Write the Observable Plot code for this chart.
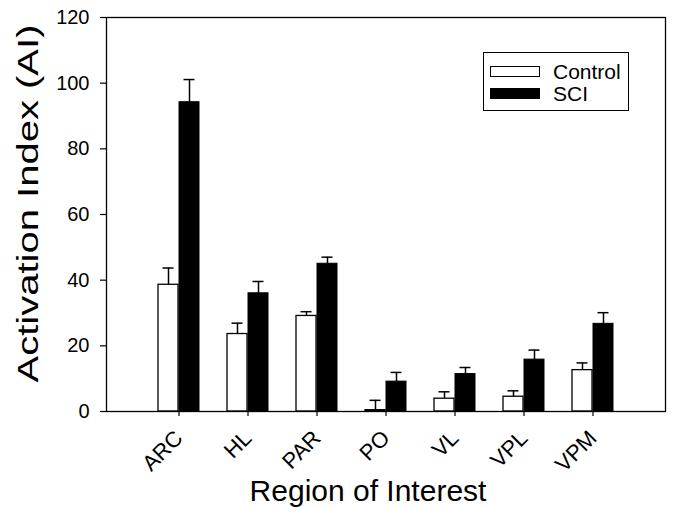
<!DOCTYPE html>
<html>
<head>
<meta charset="utf-8">
<script src="https://cdn.jsdelivr.net/npm/d3@7"></script>
<script src="https://cdn.jsdelivr.net/npm/@observablehq/plot@0.6"></script>
<style>
  html, body { margin: 0; padding: 0; background: white; }
  #wrap { position: relative; width: 675px; height: 507px; font-family: "Liberation Sans", Arial, sans-serif; }
  #legend { position: absolute; left: 483px; top: 52px; width: 146px; height: 59px; border: 1px solid black; background: white; box-sizing: border-box; }
  .row { position: absolute; left: 6px; display: flex; align-items: center; }
  .sw { width: 50px; height: 11px; box-sizing: border-box; border: 1.3px solid black; }
  .lab { margin-left: 13px; font-size: 21px; line-height: 21px; color: black; }
</style>
</head>
<body>
<div id="wrap"></div>
<script>
// Data
const regions = ["ARC", "HL", "PAR", "PO", "VL", "VPL", "VPM"];
const controlMean = [38.6, 23.6, 29.1, 0.4, 3.9, 4.5, 12.6];
const controlErr  = [5.1, 3.3, 1.3, 3.0, 2.1, 1.8, 2.2];
const sciMean     = [94.2, 36.0, 45.0, 9.1, 11.4, 15.8, 26.7];
const sciErr      = [6.9, 3.6, 2.0, 2.8, 2.0, 2.9, 3.4];
const yTicks = [0, 20, 40, 60, 80, 100, 120];
const seriesNames = ["Control", "SCI"];
const seriesFill = ["white", "black"];
const xTitle = "Region of Interest";
const yTitle = "Activation Index (AI)";

const control = regions.map((r, i) => ({region: r, mean: controlMean[i], upper: controlMean[i] + controlErr[i]}));
const sci = regions.map((r, i) => ({region: r, mean: sciMean[i], upper: sciMean[i] + sciErr[i]}));

const half = 21;
const capW = 12;

const chart = Plot.plot({
  width: 675,
  height: 507,
  marginLeft: 106,
  marginRight: 10,
  marginTop: 17,
  marginBottom: 96,
  style: {fontFamily: "'Liberation Sans', Arial, sans-serif", color: "black", background: "white", overflow: "visible"},
  x: {domain: regions, paddingInner: 0.4, paddingOuter: 0.7},
  y: {domain: [0, 120]},
  marks: [
    Plot.axisY({ticks: yTicks, tickSize: 6, tickPadding: 11, fontSize: 20, label: null, strokeWidth: 1.2}),
    Plot.axisX({tickSize: 5, tickFormat: () => "", label: null, strokeWidth: 1.2}),
    // rotated category labels
    Plot.text(regions, {x: d => d, text: d => d, frameAnchor: "bottom", rotate: -45, textAnchor: "end", lineAnchor: "bottom", dx: 5, dy: 28, fontSize: 22, fill: "black"}),
    // error bars (upper only)
    Plot.ruleX(control, {x: "region", y1: "mean", y2: "upper", dx: -half / 2, stroke: "black", strokeWidth: 1.5}),
    Plot.tickY(control, {x: "region", y: "upper", insetLeft: half / 2 - capW / 2, insetRight: half + half / 2 - capW / 2, stroke: "black", strokeWidth: 1.5}),
    Plot.ruleX(sci, {x: "region", y1: "mean", y2: "upper", dx: half / 2, stroke: "black", strokeWidth: 1.5}),
    Plot.tickY(sci, {x: "region", y: "upper", insetLeft: half + half / 2 - capW / 2, insetRight: half / 2 - capW / 2, stroke: "black", strokeWidth: 1.5}),
    // bars
    Plot.barY(control, {x: "region", y: "mean", fill: seriesFill[0], stroke: "black", strokeWidth: 1.3, insetRight: half}),
    Plot.barY(sci, {x: "region", y: "mean", fill: seriesFill[1], stroke: "black", strokeWidth: 1, insetLeft: half}),
    Plot.frame({stroke: "black", strokeWidth: 1.3}),
    // titles
    Plot.text([yTitle], {text: d => d, frameAnchor: "left", rotate: -90, dx: -69, dy: 168, fontSize: 30, textAnchor: "start", lineAnchor: "bottom", fill: "black"}),
    Plot.text([xTitle], {text: d => d, frameAnchor: "bottom", dx: -18, dy: 80, fontSize: 30, textAnchor: "middle", lineAnchor: "middle", fill: "black"})
  ]
});

chart.querySelectorAll("text").forEach(t => {
  if (t.textContent === yTitle) {
    t.setAttribute("textLength", 358);
    t.setAttribute("lengthAdjust", "spacingAndGlyphs");
  }
});

const wrap = document.getElementById("wrap");
wrap.appendChild(chart);

// Legend
const legend = document.createElement("div");
legend.id = "legend";
seriesNames.forEach((name, i) => {
  const row = document.createElement("div");
  row.className = "row";
  row.style.top = (i === 0 ? 8 : 30) + "px";
  const sw = document.createElement("div");
  sw.className = "sw";
  sw.style.background = seriesFill[i];
  const lab = document.createElement("span");
  lab.className = "lab";
  lab.textContent = name;
  row.appendChild(sw);
  row.appendChild(lab);
  legend.appendChild(row);
});
wrap.appendChild(legend);
</script>
</body>
</html>
